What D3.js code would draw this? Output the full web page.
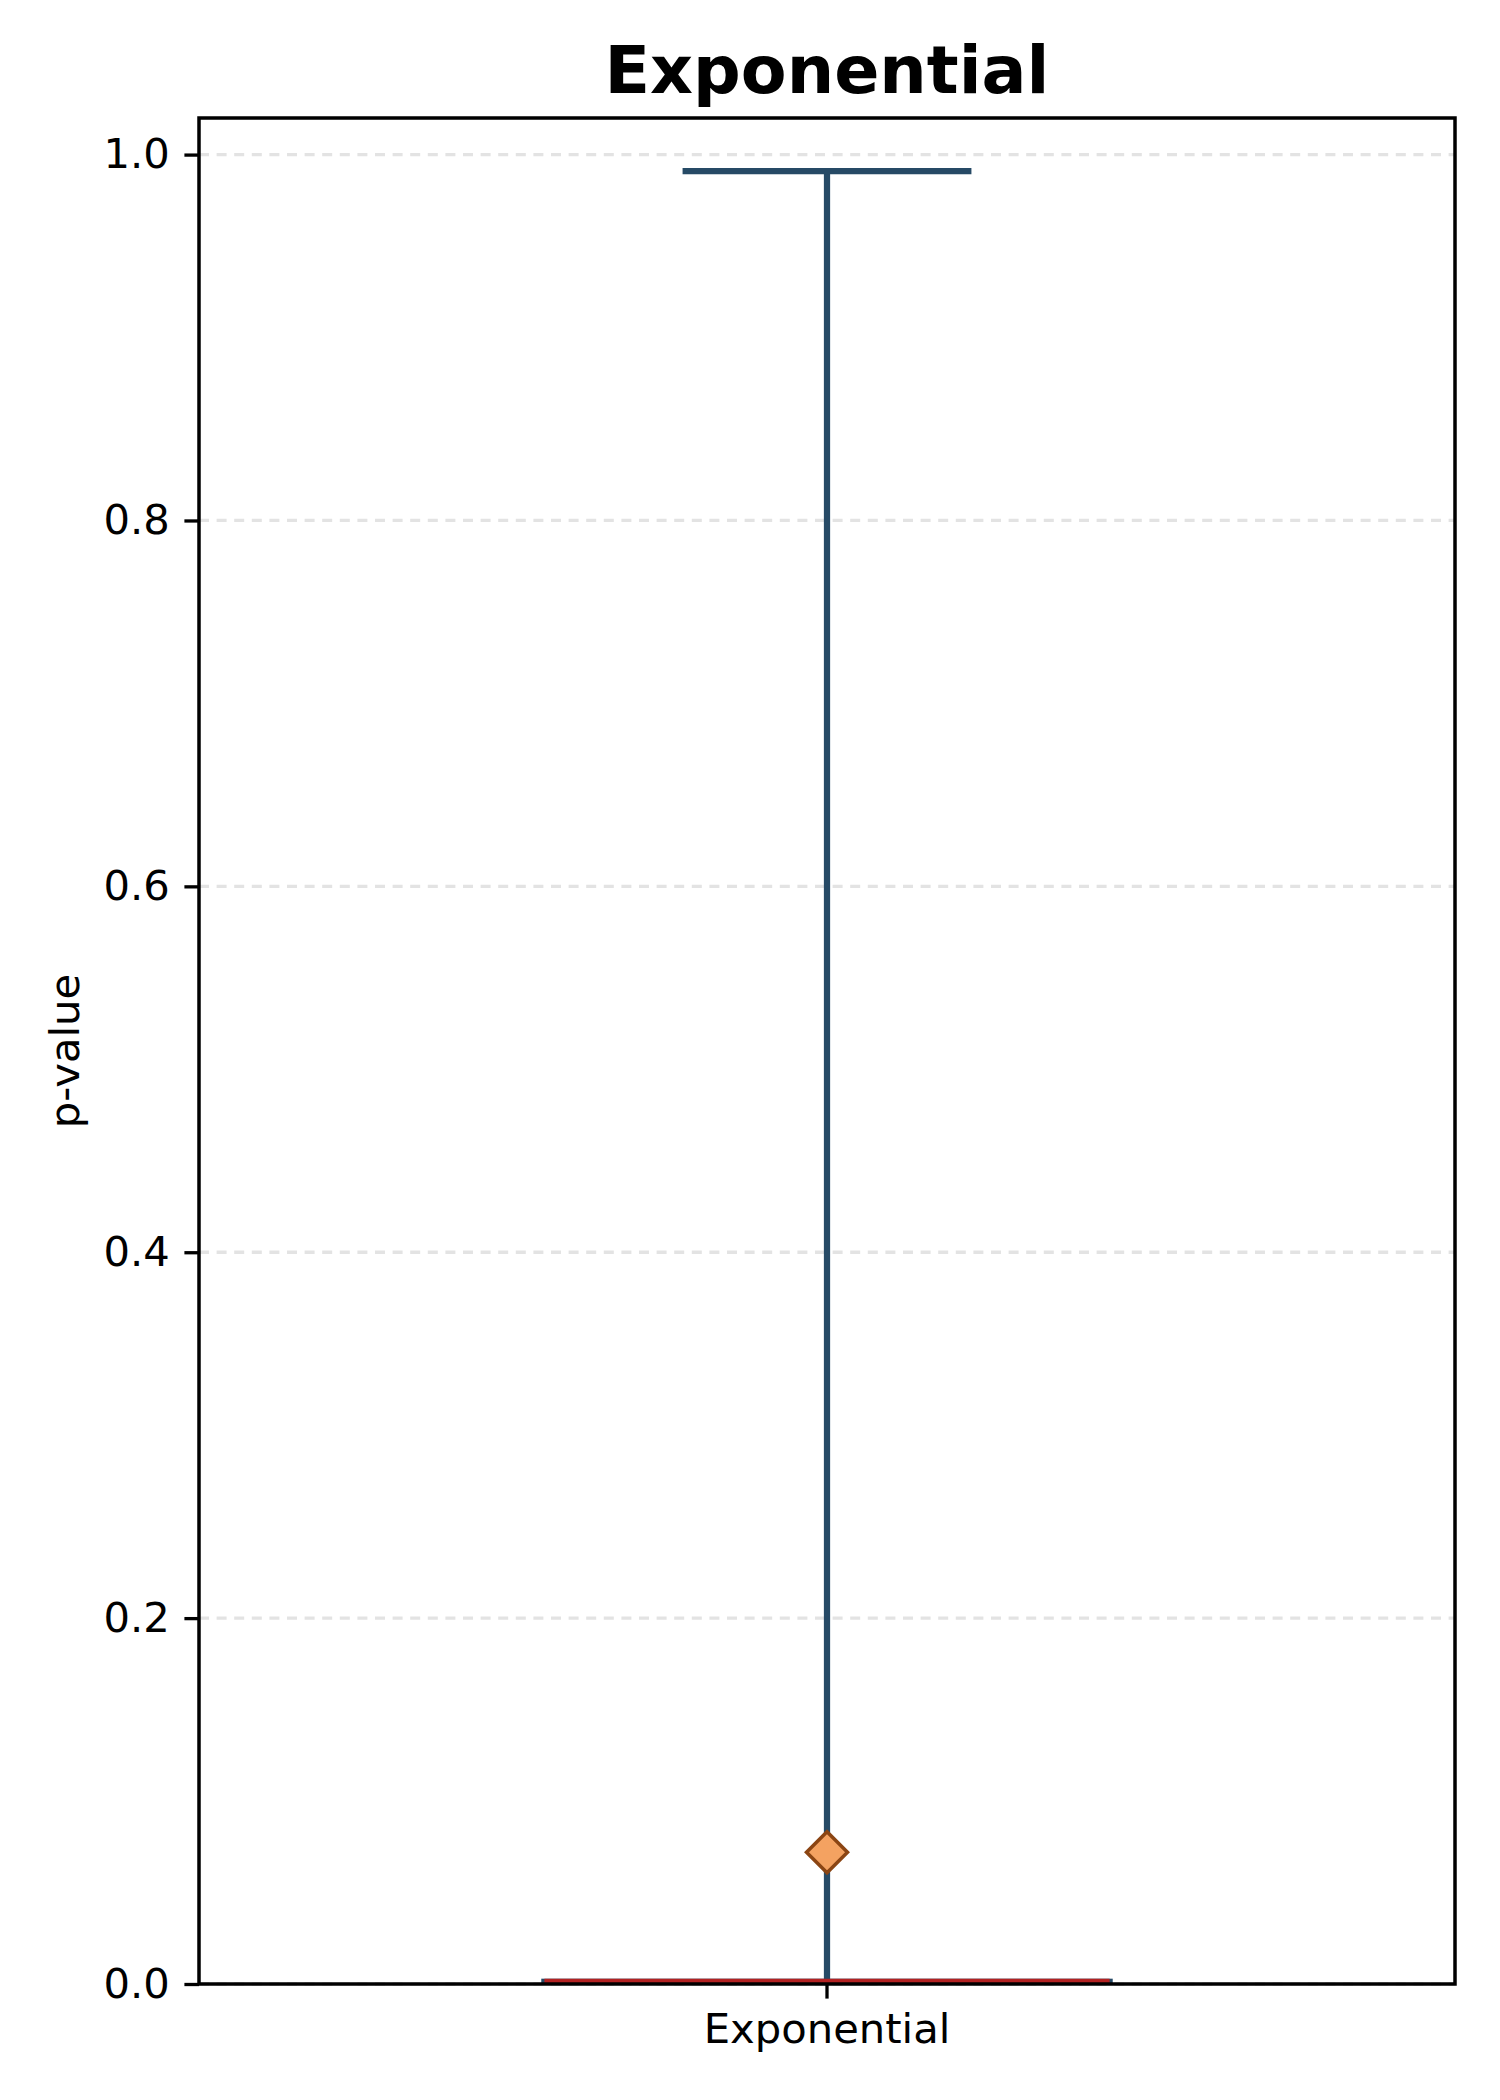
<!DOCTYPE html>
<html>
<head>
<meta charset="utf-8">
<script src="https://cdn.jsdelivr.net/npm/d3@7"></script>
<style>
  body { margin: 0; background: #fff; }
  text { font-family: "DejaVu Sans", sans-serif; }
</style>
</head>
<body>
<div id="content"></div>
<script>
// box summary (p-values)
const categories = ["Exponential"];
const q1s = [0.0];
const medians = [0.0012];
const q3s = [0.0012];
const whiskerLow = [0.0];
const whiskerHigh = [0.991];
const means = [0.072];
const yTicks = [0.0, 0.2, 0.4, 0.6, 0.8, 1.0];

const W = 1500;
const H = 2100;
const margin = { left: 199, top: 118, right: 45, bottom: 116 };
const innerWidth = W - margin.left - margin.right;
const innerHeight = H - margin.top - margin.bottom;

const boxColor = "#264a66";
const medianColor = "#b22222";
const meanFill = "#f4a261";
const meanEdge = "#8b4513";

let svg = d3.select("#content")
  .append("svg")
  .attr("width", W)
  .attr("height", H);

svg.append("rect").attr("width", W).attr("height", H).attr("fill", "white");

const x = d3.scaleBand().domain(categories).range([0, innerWidth]).padding(0);
const y = d3.scaleLinear().domain([0, 1.02]).range([innerHeight, 0]);

const g = svg.append("g").attr("transform", `translate(${margin.left},${margin.top})`);

g.append("clipPath").attr("id", "plotclip")
  .append("rect").attr("width", innerWidth).attr("height", innerHeight);

// grid
g.append("g").selectAll("line").data(yTicks).join("line")
  .attr("x1", 0).attr("x2", innerWidth)
  .attr("y1", d => y(d)).attr("y2", d => y(d))
  .attr("stroke", "#e3e3e3").attr("stroke-width", 3.3)
  .attr("stroke-dasharray", "10,7.6");

const plot = g.append("g").attr("clip-path", "url(#plotclip)");
const boxW = x.bandwidth() * 0.45;
const capW = boxW * 0.5;
const cx = d => x(d) + x.bandwidth() / 2;

const data = categories.map((c, i) => ({
  c, q1: q1s[i], med: medians[i], q3: q3s[i], lo: whiskerLow[i], hi: whiskerHigh[i], mean: means[i]
}));

// whiskers
plot.selectAll(".whisk-hi").data(data).join("line")
  .attr("x1", d => cx(d.c)).attr("x2", d => cx(d.c))
  .attr("y1", d => y(d.q3)).attr("y2", d => y(d.hi))
  .attr("stroke", boxColor).attr("stroke-width", 6.25);
plot.selectAll(".whisk-lo").data(data).join("line")
  .attr("x1", d => cx(d.c)).attr("x2", d => cx(d.c))
  .attr("y1", d => y(d.q1)).attr("y2", d => y(d.lo))
  .attr("stroke", boxColor).attr("stroke-width", 6.25);

// caps
plot.selectAll(".cap").data(data.flatMap(d => [{ c: d.c, v: d.hi }, { c: d.c, v: d.lo }])).join("line")
  .attr("x1", d => cx(d.c) - capW / 2).attr("x2", d => cx(d.c) + capW / 2)
  .attr("y1", d => y(d.v)).attr("y2", d => y(d.v))
  .attr("stroke", boxColor).attr("stroke-width", 6.25)
  .attr("stroke-linecap", "square");

// box (collapsed near zero)
plot.selectAll(".box").data(data).join("rect")
  .attr("x", d => cx(d.c) - boxW / 2).attr("width", boxW)
  .attr("y", d => y(d.q3)).attr("height", d => y(d.q1) - y(d.q3))
  .attr("fill", "none").attr("stroke", boxColor).attr("stroke-width", 6.25);

// median
plot.selectAll(".median").data(data).join("line")
  .attr("x1", d => cx(d.c) - boxW / 2).attr("x2", d => cx(d.c) + boxW / 2)
  .attr("y1", d => y(d.med)).attr("y2", d => y(d.med))
  .attr("stroke", medianColor).attr("stroke-width", 6.25);

// mean marker
plot.selectAll(".mean").data(data).join("path")
  .attr("d", d3.symbol().type(d3.symbolSquare).size(841))
  .attr("transform", d => `translate(${cx(d.c)},${y(d.mean)}) rotate(45)`)
  .attr("fill", meanFill).attr("stroke", meanEdge).attr("stroke-width", 3.5);

// axes
const yAxis = g.append("g")
  .call(d3.axisLeft(y).tickValues(yTicks).tickFormat(d3.format(".1f")).tickSize(14.6).tickPadding(14.6));
const xAxis = g.append("g").attr("transform", `translate(0,${innerHeight})`)
  .call(d3.axisBottom(x).tickSize(14.6).tickPadding(14.6));
[yAxis, xAxis].forEach(a => {
  a.select(".domain").remove();
  a.selectAll(".tick line").attr("stroke", "black").attr("stroke-width", 3.3);
  a.selectAll(".tick text").attr("font-size", 41.7).attr("fill", "black")
    .style("font-family", "DejaVu Sans");
});

// spines
g.append("rect").attr("width", innerWidth).attr("height", innerHeight)
  .attr("fill", "none").attr("stroke", "black").attr("stroke-width", 3.5);

// labels
svg.append("text")
  .attr("x", margin.left + innerWidth / 2).attr("y", 93)
  .attr("text-anchor", "middle").attr("font-size", 66.7).attr("font-weight", "bold")
  .text("Exponential");

svg.append("text")
  .attr("transform", `translate(79,${margin.top + innerHeight / 2}) rotate(-90)`)
  .attr("text-anchor", "middle").attr("font-size", 41.7)
  .text("p-value");
</script>
</body>
</html>
